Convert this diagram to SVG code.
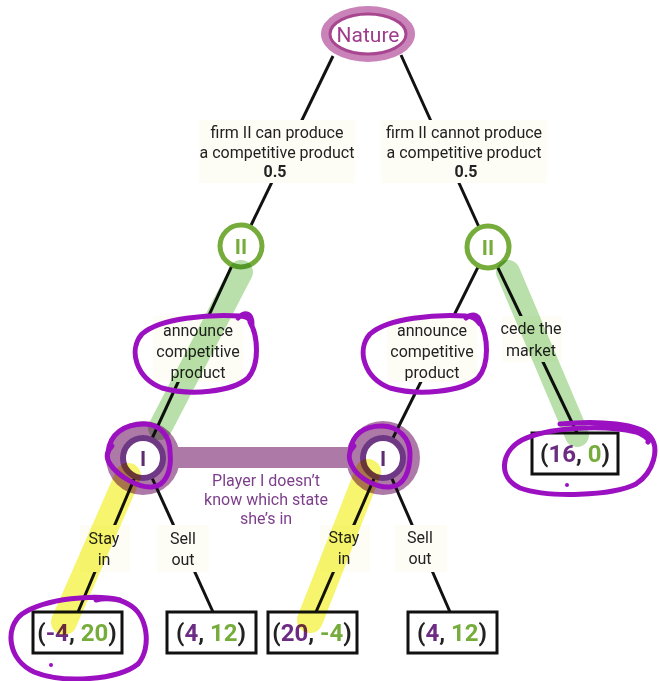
<svg xmlns="http://www.w3.org/2000/svg" width="660" height="681" viewBox="0 0 660 681">
<style>
  .edge{stroke:#111;stroke-width:3;fill:none}
  .lbl{fill:#fdfdf6}
  .t{font-family:Roboto,"Liberation Sans",sans-serif;font-size:16px;fill:#222;text-anchor:middle}
  .tb{font-weight:bold}
  .box{fill:#fff;stroke:#111;stroke-width:3}
  .pay{font-family:Roboto,"Liberation Sans",sans-serif;font-size:24px;font-weight:bold;fill:#222;text-anchor:middle}
  .p1{fill:#6c2c84}
  .p2{fill:#76ac3c}
  .halo{fill:#ad7aa8}
  .ring1{fill:#fff;stroke:#6e3884;stroke-width:6}
  .ring2{fill:#fff;stroke:#76ac3c;stroke-width:5}
  .nl{font-family:Roboto,"Liberation Sans",sans-serif;font-size:21px;font-weight:bold;text-anchor:middle}
  .hg{stroke:#b9e0ab;stroke-width:24;stroke-linecap:round;fill:none;mix-blend-mode:multiply}
  .hy{stroke:#f7f56e;stroke-width:26;stroke-linecap:round;fill:none;mix-blend-mode:multiply}
  .pen{stroke:#9b10c0;stroke-width:5;fill:none;stroke-linecap:round;stroke-linejoin:round}
</style>

<!-- information set band -->
<g id="info-set">
  <rect x="143" y="447" width="240" height="21" class="halo"/>
  <circle cx="143" cy="458" r="37" class="halo"/>
  <circle cx="383" cy="458" r="37" class="halo"/>
</g>

<g id="connectors">
  <line class="edge" x1="333" y1="56" x2="241" y2="246"/>
  <line class="edge" x1="401" y1="55" x2="488" y2="247"/>
  <line class="edge" x1="241" y1="246" x2="143" y2="458"/>
  <line class="edge" x1="488" y1="247" x2="383" y2="458"/>
  <line class="edge" x1="488" y1="247" x2="577" y2="433"/>
  <line class="edge" x1="143" y1="458" x2="78" y2="612"/>
  <line class="edge" x1="143" y1="458" x2="213" y2="612"/>
  <line class="edge" x1="383" y1="458" x2="316" y2="612"/>
  <line class="edge" x1="383" y1="458" x2="450" y2="612"/>
</g>

<g id="edge-labels">
  <rect class="lbl" x="199" y="120" width="156" height="63"/>
  <text class="t" x="277" y="138">firm II can produce</text>
  <text class="t" x="277" y="158">a competitive product</text>
  <text class="t tb" x="275" y="177">0.5</text>

  <rect class="lbl" x="381" y="120" width="166" height="63"/>
  <text class="t" x="464" y="138">firm II cannot produce</text>
  <text class="t" x="464" y="158">a competitive product</text>
  <text class="t tb" x="466" y="177">0.5</text>

  <rect class="lbl" x="153" y="316" width="90" height="66"/>
  <text class="t" x="198" y="336">announce</text>
  <text class="t" x="198" y="357">competitive</text>
  <text class="t" x="198" y="378">product</text>

  <rect class="lbl" x="387" y="316" width="90" height="66"/>
  <text class="t" x="432" y="336">announce</text>
  <text class="t" x="432" y="357">competitive</text>
  <text class="t" x="432" y="378">product</text>

  <rect class="lbl" x="502" y="316" width="60" height="46"/>
  <text class="t" x="531" y="334">cede the</text>
  <text class="t" x="531" y="356">market</text>

  <rect class="lbl" x="80" y="525" width="50" height="47"/>
  <text class="t" x="104" y="544">Stay</text>
  <text class="t" x="104" y="565">in</text>

  <rect class="lbl" x="157" y="525" width="52" height="47"/>
  <text class="t" x="183" y="544">Sell</text>
  <text class="t" x="183" y="565">out</text>

  <rect class="lbl" x="320" y="525" width="50" height="47"/>
  <text class="t" x="344" y="543">Stay</text>
  <text class="t" x="344" y="564">in</text>

  <rect class="lbl" x="395" y="525" width="52" height="47"/>
  <text class="t" x="420" y="543">Sell</text>
  <text class="t" x="420" y="564">out</text>
</g>

<g id="info-label">
  <text class="t" x="266" y="486" style="fill:#7d3f8c">Player I doesn’t</text>
  <text class="t" x="266" y="505" style="fill:#7d3f8c">know which state</text>
  <text class="t" x="266" y="524" style="fill:#7d3f8c">she’s in</text>
</g>

<g id="nature">
  <ellipse cx="368" cy="34" rx="47" ry="28" fill="#c983b8"/>
  <ellipse cx="368" cy="34" rx="38" ry="20" fill="#fff" stroke="#a8468f" stroke-width="3"/>
  <text x="368" y="42" font-family="Roboto, 'Liberation Sans', sans-serif" font-size="21" fill="#a03c8c" text-anchor="middle">Nature</text>
</g>

<g id="II-left">
  <circle cx="241" cy="246" r="21" class="ring2"/>
  <text class="nl" x="241" y="254" fill="#76ac3c">II</text>
</g>
<g id="II-right">
  <circle cx="488" cy="247" r="21" class="ring2"/>
  <text class="nl" x="488" y="255" fill="#76ac3c">II</text>
</g>

<g id="I-left">
  <circle cx="143" cy="458" r="20" class="ring1"/>
  <text class="nl" x="143" y="466" fill="#5e2d70">I</text>
</g>
<g id="I-right">
  <circle cx="383" cy="458" r="20" class="ring1"/>
  <text class="nl" x="383" y="466" fill="#5e2d70">I</text>
</g>

<g id="payoff-16-0">
  <rect class="box" x="532" y="433" width="86" height="41"/>
  <text class="pay" x="575" y="462">(<tspan class="p1">16</tspan>, <tspan class="p2">0</tspan>)</text>
</g>
<g id="payoff-m4-20">
  <rect class="box" x="33" y="612" width="89" height="41"/>
  <text class="pay" x="77" y="641">(<tspan class="p1">-4</tspan>, <tspan class="p2">20</tspan>)</text>
</g>
<g id="payoff-4-12-left">
  <rect class="box" x="167" y="612" width="89" height="41"/>
  <text class="pay" x="211" y="641">(<tspan class="p1">4</tspan>, <tspan class="p2">12</tspan>)</text>
</g>
<g id="payoff-20-m4">
  <rect class="box" x="268" y="612" width="89" height="41"/>
  <text class="pay" x="312" y="641">(<tspan class="p1">20</tspan>, <tspan class="p2">-4</tspan>)</text>
</g>
<g id="payoff-4-12-right">
  <rect class="box" x="408" y="612" width="89" height="41"/>
  <text class="pay" x="452" y="641">(<tspan class="p1">4</tspan>, <tspan class="p2">12</tspan>)</text>
</g>

<g id="highlights">
  <line class="hg" x1="241" y1="272" x2="160" y2="428"/>
  <line class="hg" x1="508" y1="272" x2="577" y2="435"/>
  <line class="hy" x1="128" y1="476" x2="64" y2="622"/>
  <line class="hy" x1="368" y1="472" x2="310" y2="620"/>
</g>

<g id="pen-marks">
  <path class="pen" d="M238 318 C246 310 252 314 252 324 C250 318 246 316 240 316 C210 314 160 318 142 334 C128 350 136 378 162 388 C190 396 232 392 248 378 C260 364 258 336 250 322"/>
  <path class="pen" d="M466 318 C474 312 480 316 480 324 C476 318 472 316 466 316 C436 314 388 318 370 334 C356 350 364 378 390 388 C418 396 462 392 478 378 C490 364 488 336 480 322"/>
  <path class="pen" d="M108 452 C110 434 124 424 144 424 C160 424 170 436 170 452 C172 470 166 486 152 487 C138 488 118 476 110 464 C106 458 106 452 112 446"/>
  <path class="pen" d="M350 452 C352 434 364 426 382 426 C398 426 410 438 410 454 C410 472 404 486 390 487 C376 488 358 478 352 466 C348 458 348 452 354 446"/>
  <path class="pen" d="M560 424 C600 420 640 424 650 436 C660 448 654 472 636 484 C612 496 548 498 520 488 C498 478 500 452 522 440 C546 428 600 424 636 432 C646 436 650 440 648 442"/>
  <circle cx="567" cy="485" r="2" fill="#9b10c0"/>
  <path class="pen" d="M120 600 C96 594 46 598 22 614 C4 628 8 660 34 672 C64 684 118 680 138 664 C152 648 148 614 128 604 C118 598 104 598 96 600"/>
  <circle cx="51" cy="665" r="2" fill="#9b10c0"/>
</g>
</svg>
